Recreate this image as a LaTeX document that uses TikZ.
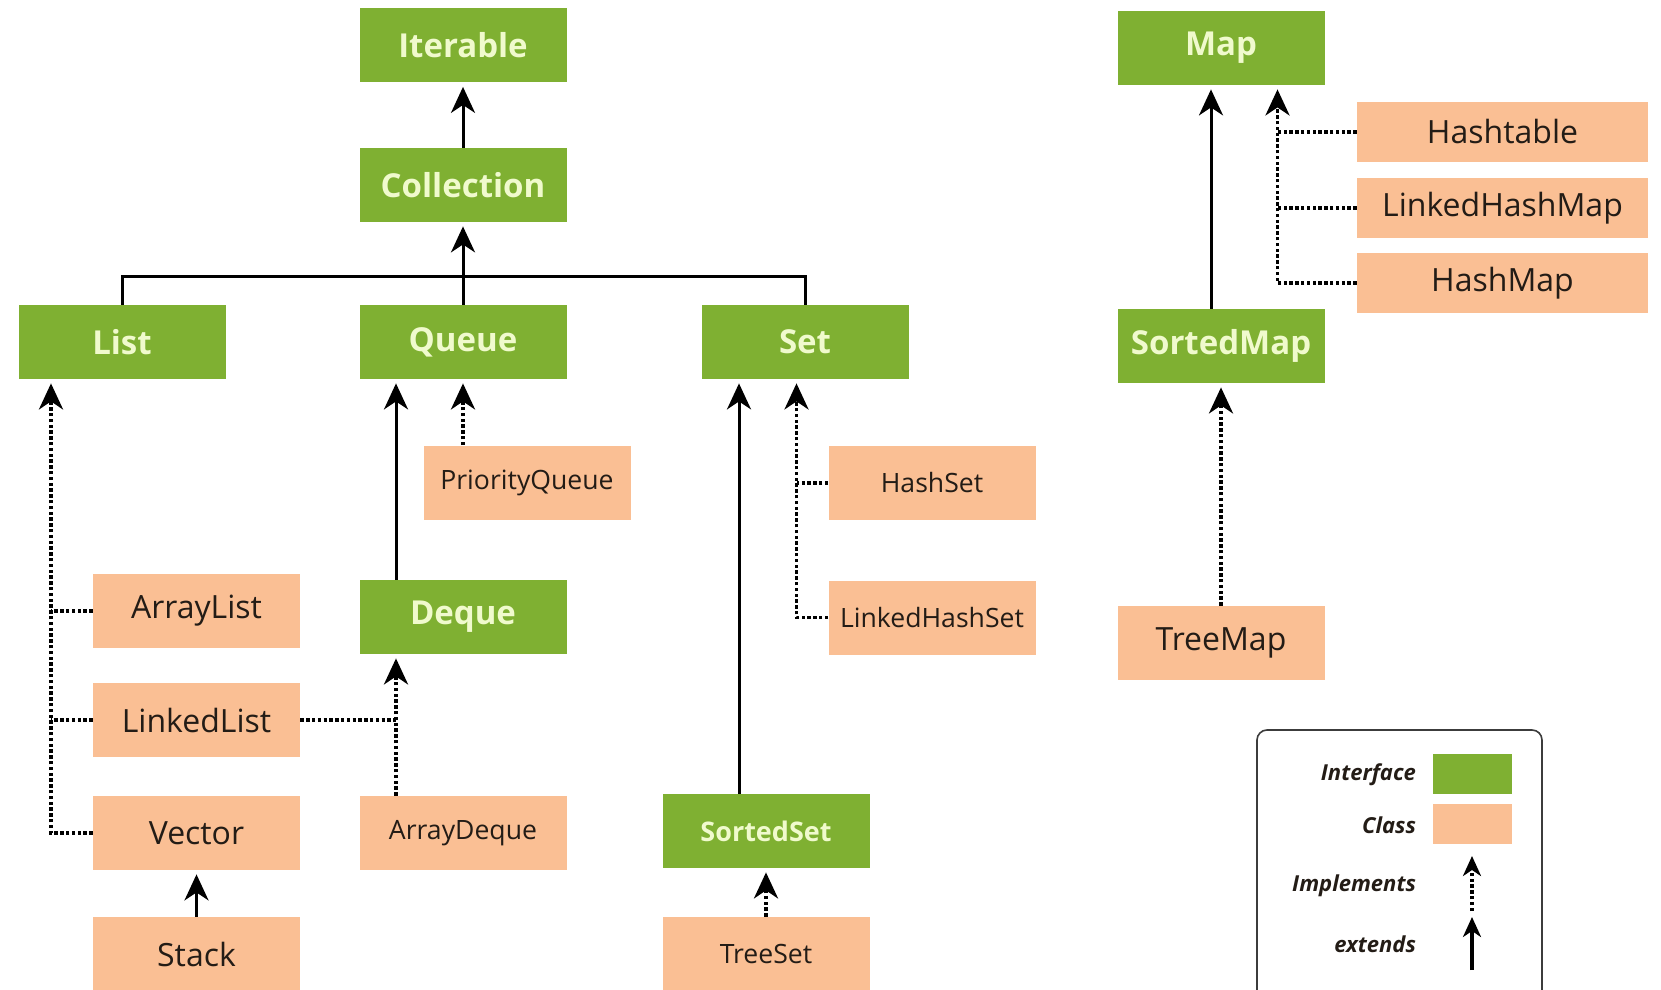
\documentclass[tikz,border=0pt]{standalone}
\usepackage{fontspec}
\setmainfont{Open Sans}
\usepackage{tikz}
\usetikzlibrary{arrows.meta,positioning,calc}
\definecolor{jtGreen} {RGB}{127,176, 50}
\definecolor{jtCream} {RGB}{240,250,205}
\definecolor{jtPeach} {RGB}{250,191,148}
\definecolor{jtInk}   {RGB}{ 35, 28, 22}
\definecolor{jtGrey}  {RGB}{ 60, 60, 60}

\begin{document}
\begin{tikzpicture}[
  x=0.5pt,y=-0.5pt,
  intf/.style={fill=jtGreen,text=jtCream,minimum width=103.5pt,minimum height=37pt,inner sep=0pt,
               font=\fontsize{16.5}{19}\selectfont\bfseries},
  intfs/.style={intf,font=\fontsize{13.5}{16}\selectfont\bfseries},
  cls/.style={fill=jtPeach,text=jtInk,minimum width=103.5pt,minimum height=37pt,inner sep=0pt,
              font=\fontsize{16}{19}\selectfont},
  clss/.style={cls,font=\fontsize{13.3}{16}\selectfont},
  clsw/.style={cls,minimum width=145.5pt,minimum height=30pt},
  plain/.style={draw=black,line width=1.5pt},
  ext/.style={plain,-{Stealth[length=13pt,width=12pt,inset=4pt]},shorten >=2pt},
  impldots/.style={draw=black,line width=1.9pt,dash pattern=on 1.7pt off 1.2pt},
  impl/.style={impldots,-{Stealth[length=13pt,width=12pt,inset=4pt]},shorten >=2pt},
  legendbox/.style={draw=jtGrey,line width=0.8pt,rounded corners=5pt,minimum width=142.5pt,minimum height=140pt},
  keytext/.style={anchor=east,font=\fontsize{11}{13}\selectfont\bfseries\itshape,text=jtInk}
]
\clip (0,0) rectangle (1661,990);

% Collection side
\node[intf] (Iterable)   at (463,45.5) {Iterable};
\node[intf] (Collection) at (463,185)  {Collection};
\node[intf] (List)       at (122,342)  {List};
\node[intf] (Queue)      at (463,342)  {Queue};
\node[intf] (Set)        at (805,342)  {Set};
\node[intf] (Deque)      at (463,617)  {Deque};
\node[intfs] (SortedSet) at (766,831)  {SortedSet};

\node[cls]  (ArrayList)     at (196.5,611) {ArrayList};
\node[cls]  (LinkedList)    at (196.5,720) {LinkedList};
\node[cls]  (Vector)        at (196.5,833) {Vector};
\node[cls]  (Stack)         at (196.5,954) {Stack};
\node[clss] (PriorityQueue) at (527,482.5) {PriorityQueue};
\node[clss] (ArrayDeque)    at (463,833)   {ArrayDeque};
\node[clss] (HashSet)       at (932,483)   {HashSet};
\node[clss] (LinkedHashSet) at (932,617.5) {LinkedHashSet};
\node[clss] (TreeSet)       at (766,954)   {TreeSet};

% Map side
\node[intf] (Map)       at (1221,48)  {Map};
\node[intf] (SortedMap) at (1221,346) {SortedMap};
\node[clsw] (Hashtable)     at (1502.5,132) {Hashtable};
\node[clsw] (LinkedHashMap) at (1502.5,208) {LinkedHashMap};
\node[clsw] (HashMap)       at (1502.5,283) {HashMap};
\node[cls]  (TreeMap)       at (1221,643)   {TreeMap};

% trunks
\coordinate (bus)    at (463,276);
\coordinate (ltrunk) at (51,0);
\coordinate (qext)   at (396,0);
\coordinate (sext)   at (739,0);
\coordinate (simpl)  at (796.5,0);
\coordinate (mext)   at (1211,0);
\coordinate (mimpl)  at (1277.5,0);

\draw[ext] (Collection) -- (Iterable);
\draw[plain] (List.north) |- (Set.north |- bus) -- (Set.north);
\draw[plain] (Queue.north) -- (bus);
\draw[ext] (bus) -- (Collection.south);

% List
\draw[impl] (Vector.west) -| (List.south -| ltrunk);
\draw[impldots] (ArrayList.west) -- (ArrayList.west -| ltrunk);
\draw[impldots] (LinkedList.west) -- (LinkedList.west -| ltrunk);
\draw[ext] (Stack) -- (Vector);

% Queue
\draw[ext] (Deque.north -| qext) -- (Queue.south -| qext);
\draw[impl] (PriorityQueue.north -| Queue.south) -- (Queue.south);
\draw[impl] (ArrayDeque.north -| qext) -- (Deque.south -| qext);
\draw[impldots] (LinkedList.east) -- (LinkedList.east -| qext);

% Set
\draw[ext] (SortedSet.north -| sext) -- (Set.south -| sext);
\draw[impl] (LinkedHashSet.west) -| (Set.south -| simpl);
\draw[impldots] (HashSet.west) -- (HashSet.west -| simpl);
\draw[impl] (TreeSet) -- (SortedSet);

% Map
\draw[ext] (SortedMap.north -| mext) -- (Map.south -| mext);
\draw[impl] (HashMap.west) -| (Map.south -| mimpl);
\draw[impldots] (Hashtable.west) -- (Hashtable.west -| mimpl);
\draw[impldots] (LinkedHashMap.west) -- (LinkedHashMap.west -| mimpl);
\draw[impl] (TreeMap.north -| SortedMap.south) -- (SortedMap.south);

% legend
\node[legendbox] (key) at (1399.5,870) {};
\node[fill=jtGreen,minimum width=39.5pt,minimum height=20pt,inner sep=0pt] (keyI) at (1472.5,774) {};
\node[fill=jtPeach,minimum width=39.5pt,minimum height=20pt,inner sep=0pt] (keyC) at (1472.5,824) {};
\node[keytext] (keyIt) at (1423,775) {Interface};
\node[keytext] (keyCt) at (1423,825) {Class};
\node[keytext] (keyPt) at (1423,886) {Implements};
\node[keytext] (keyEt) at (1423,944) {extends};
\coordinate (implA) at (1472,911);
\coordinate (implB) at (1472,856);
\coordinate (extA)  at (1472,970);
\coordinate (extB)  at (1472,917);
\draw[impldots,line width=1.6pt,-{Stealth[length=10pt,width=9pt,inset=3pt]}] (implA) -- (implB);
\draw[plain,line width=1.6pt,-{Stealth[length=10pt,width=9pt,inset=3pt]}] (extA) -- (extB);
\end{tikzpicture}
\end{document}
